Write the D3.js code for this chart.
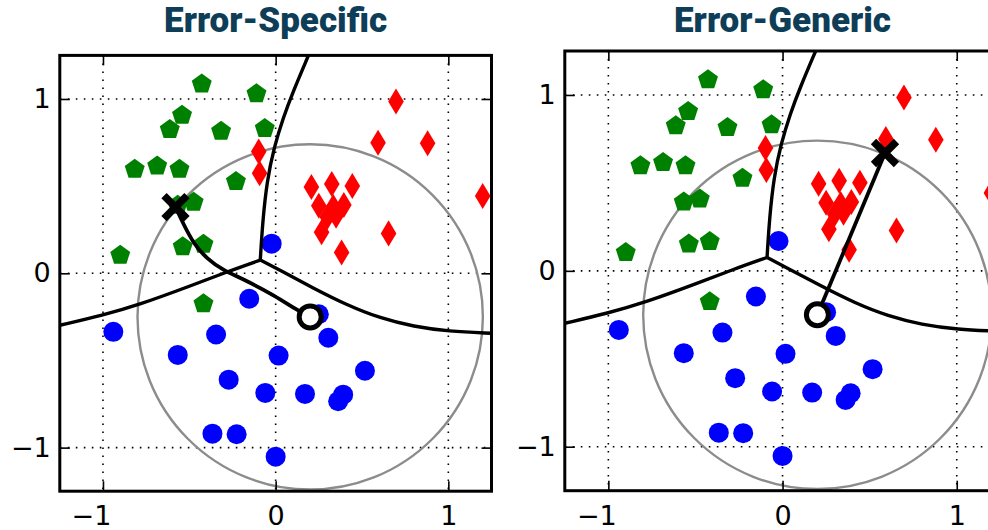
<!DOCTYPE html>
<html>
<head>
<meta charset="utf-8">
<script src="https://cdn.jsdelivr.net/npm/d3@7"></script>
<style>
  body { margin: 0; background: #fff; }
  svg { display: block; }
  .tick line { stroke: #000; stroke-width: 1.6; }
  .tick text { font-family: "DejaVu Sans", sans-serif; font-size: 27px; fill: #000; }
</style>
</head>
<body>
<div class="chart"></div>
<script>
// tick values shared by both axes
const tickValues = [-1, 0, 1];
const domain = [-1.25, 1.25];

// scatter classes, [x, y] in data units
const greenPoints = [
  [-0.428, 1.086], [-0.111, 1.030], [-0.542, 0.906], [-0.613, 0.825],
  [-0.316, 0.815], [-0.063, 0.830], [-0.816, 0.597], [-0.686, 0.616],
  [-0.557, 0.597], [-0.230, 0.527], [-0.567, 0.391], [-0.475, 0.408],
  [-0.538, 0.152], [-0.418, 0.167], [-0.900, 0.104], [-0.418, -0.175]
];
const bluePoints = [
  [-0.153, -0.146], [-0.023, 0.170], [0.250, -0.235], [-0.940, -0.336],
  [-0.345, -0.351], [0.305, -0.370], [-0.567, -0.468], [0.017, -0.472],
  [0.517, -0.559], [-0.272, -0.610], [-0.060, -0.686], [0.170, -0.692],
  [0.391, -0.696], [0.362, -0.734], [-0.366, -0.920], [-0.226, -0.923],
  [0.000, -1.052]
];
const redPoints = [
  [0.697, 0.985], [0.593, 0.749], [0.880, 0.746], [1.199, 0.443],
  [-0.098, 0.698], [-0.093, 0.574], [0.654, 0.229],
  [0.207, 0.495], [0.325, 0.512], [0.444, 0.501], [0.250, 0.387],
  [0.334, 0.380], [0.395, 0.392], [0.299, 0.323], [0.350, 0.330],
  [0.266, 0.236], [0.382, 0.120]
];

// decision boundaries (three branches from one junction)
const boundaryUp = [[-0.089, 0.076], [-0.075, 0.3], [-0.05, 0.53], [-0.01, 0.72], [0.045, 0.896], [0.1, 1.04], [0.19, 1.25]];
const boundaryLeft = [[-0.089, 0.076], [-0.281, 0.009], [-0.5, -0.075], [-0.79, -0.18], [-1.0, -0.24], [-1.25, -0.298]];
const boundaryRight = [[-0.089, 0.076], [0.03, 0.015], [0.22, -0.086], [0.413, -0.182], [0.606, -0.258], [0.8, -0.306], [1.0, -0.333], [1.25, -0.344]];

// starting sample and perturbation budget
const startPoint = [0.2, -0.25];
const budgetRadius = 1.0;

// attack paths
const pathSpecific = [[0.2, -0.25], [0.12, -0.21], [0.0, -0.13], [-0.2, -0.027], [-0.3, 0.015], [-0.4, 0.085], [-0.475, 0.17], [-0.533, 0.28], [-0.58, 0.38]];
const pathGeneric = [[0.2, -0.25], [0.588, 0.67]];

const panels = [
  { title: "Error-Specific", x0: 59.8, x1: 491.5, y0: 55.4, y1: 491.2, path: pathSpecific, curved: true },
  { title: "Error-Generic", x0: 564.8, x1: 1000.3, y0: 51.0, y1: 490.7, path: pathGeneric, curved: false }
];

// custom marker shapes for d3.symbol
const pentagon = {
  draw(ctx, size) {
    const r = Math.sqrt(size / 2.378);
    for (let k = 0; k < 5; k++) {
      const a = -Math.PI / 2 + k * 2 * Math.PI / 5;
      if (k === 0) ctx.moveTo(r * Math.cos(a), r * Math.sin(a));
      else ctx.lineTo(r * Math.cos(a), r * Math.sin(a));
    }
    ctx.closePath();
  }
};
const thinDiamond = {
  draw(ctx, size) {
    const h = Math.sqrt(size / 1.2), w = 0.6 * h;
    ctx.moveTo(0, -h);
    ctx.lineTo(w, 0);
    ctx.lineTo(0, h);
    ctx.lineTo(-w, 0);
    ctx.closePath();
  }
};

const svg = d3.select(".chart").append("svg")
  .attr("width", 988)
  .attr("height", 530);

panels.forEach((p, i) => drawPanel(p, i));

function drawPanel(p, i) {
  const x = d3.scaleLinear().domain(domain).range([p.x0, p.x1]);
  const y = d3.scaleLinear().domain(domain).range([p.y1, p.y0]);
  const w = p.x1 - p.x0, h = p.y1 - p.y0;
  const fmt = d3.format("d");

  svg.append("clipPath").attr("id", "clip" + i)
    .append("rect").attr("x", p.x0).attr("y", p.y0).attr("width", w).attr("height", h);

  svg.append("text")
    .attr("x", (p.x0 + p.x1) / 2)
    .attr("y", 32)
    .attr("text-anchor", "middle")
    .attr("font-family", "Roboto, sans-serif")
    .attr("font-weight", 900)
    .attr("font-size", 35)
    .attr("fill", "#0e3d58")
    .text(p.title);

  const g = svg.append("g");

  // dotted grid
  g.selectAll(".gx").data(tickValues).join("line")
    .attr("x1", d => x(d)).attr("x2", d => x(d))
    .attr("y1", p.y0).attr("y2", p.y1)
    .attr("stroke", "#000").attr("stroke-width", 1.6)
    .attr("stroke-dasharray", "1.6,6.4");
  g.selectAll(".gy").data(tickValues).join("line")
    .attr("y1", d => y(d)).attr("y2", d => y(d))
    .attr("x1", p.x0).attr("x2", p.x1)
    .attr("stroke", "#000").attr("stroke-width", 1.6)
    .attr("stroke-dasharray", "1.6,6.4");

  const plot = g.append("g").attr("clip-path", "url(#clip" + i + ")");

  // perturbation budget circle
  plot.append("circle")
    .attr("cx", x(startPoint[0]))
    .attr("cy", y(startPoint[1]))
    .attr("r", x(budgetRadius) - x(0))
    .attr("fill", "none")
    .attr("stroke", "#8c8c8c")
    .attr("stroke-width", 2.4);

  plot.selectAll(".blue").data(bluePoints).join("circle")
    .attr("cx", d => x(d[0])).attr("cy", d => y(d[1]))
    .attr("r", 10)
    .attr("fill", "#0000ff");

  plot.selectAll(".green").data(greenPoints).join("path")
    .attr("transform", d => "translate(" + x(d[0]) + "," + y(d[1]) + ")")
    .attr("d", d3.symbol().type(pentagon).size(262))
    .attr("fill", "#008000");

  plot.selectAll(".red").data(redPoints).join("path")
    .attr("transform", d => "translate(" + x(d[0]) + "," + y(d[1]) + ")")
    .attr("d", d3.symbol().type(thinDiamond).size(203))
    .attr("fill", "#ff0000");

  const curveLine = d3.line()
    .x(d => x(d[0]))
    .y(d => y(d[1]))
    .curve(d3.curveBasis);

  [boundaryUp, boundaryLeft, boundaryRight].forEach(b => {
    plot.append("path")
      .attr("d", curveLine(b))
      .attr("fill", "none")
      .attr("stroke", "#000")
      .attr("stroke-width", 3.4);
  });

  const pathLine = p.curved ? curveLine : d3.line().x(d => x(d[0])).y(d => y(d[1]));
  plot.append("path")
    .attr("d", pathLine(p.path))
    .attr("fill", "none")
    .attr("stroke", "#000")
    .attr("stroke-width", 3.8);

  // end point of attack
  const end = p.path[p.path.length - 1];
  const ex = x(end[0]), ey = y(end[1]), s = 11.5;
  plot.append("path")
    .attr("d", `M${ex - s},${ey - s}L${ex + s},${ey + s}M${ex - s},${ey + s}L${ex + s},${ey - s}`)
    .attr("stroke", "#000")
    .attr("stroke-width", 7.5);

  // starting sample
  plot.append("circle")
    .attr("cx", x(startPoint[0]))
    .attr("cy", y(startPoint[1]))
    .attr("r", 11)
    .attr("fill", "#fff")
    .attr("stroke", "#000")
    .attr("stroke-width", 5);

  // axes with inward ticks
  const bottom = g.append("g")
    .attr("transform", "translate(0," + p.y1 + ")")
    .call(d3.axisBottom(x).tickValues(tickValues).tickFormat(fmt).tickSizeInner(-10).tickSizeOuter(0).tickPadding(15));
  bottom.selectAll(".tick text").attr("dx", d => d < 0 ? -12 : 0);

  g.append("g")
    .attr("transform", "translate(" + p.x0 + ",0)")
    .call(d3.axisLeft(y).tickValues(tickValues).tickFormat(fmt).tickSizeInner(-10).tickSizeOuter(0).tickPadding(9));

  g.append("g")
    .attr("transform", "translate(0," + p.y0 + ")")
    .call(d3.axisTop(x).tickValues(tickValues).tickSizeInner(-10).tickSizeOuter(0).tickFormat(""));

  g.append("g")
    .attr("transform", "translate(" + p.x1 + ",0)")
    .call(d3.axisRight(y).tickValues(tickValues).tickSizeInner(-10).tickSizeOuter(0).tickFormat(""));

  g.selectAll(".domain").remove();

  g.append("rect")
    .attr("x", p.x0).attr("y", p.y0)
    .attr("width", w).attr("height", h)
    .attr("fill", "none")
    .attr("stroke", "#000")
    .attr("stroke-width", 3);
}
</script>
</body>
</html>
